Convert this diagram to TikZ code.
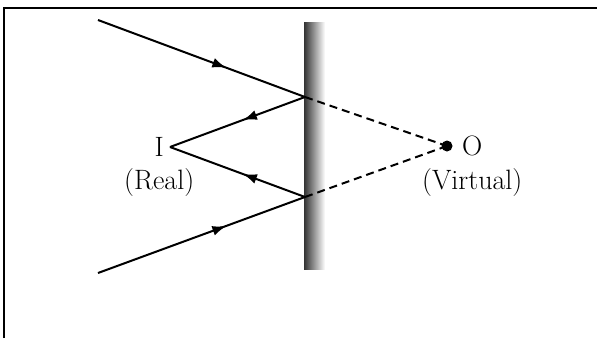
\documentclass[tikz,border=0pt]{standalone}
\usetikzlibrary{positioning,decorations.markings,arrows.meta}
\tikzset{
  ray/.style={line width=2pt, line join=round},
  virtray/.style={line width=2pt, dash pattern=on 8pt off 5pt},
  midarrow/.style={postaction={decorate}, decoration={markings,
    mark=at position #1 with {\arrow{Latex[length=14pt,width=10pt]}}}},
  lbl/.style={font=\fontsize{28}{32}\selectfont, inner sep=0pt}
}
\begin{document}
\begin{tikzpicture}[x=1pt, y=-1pt]
  \useasboundingbox (0,0) rectangle (597,338);
  % the frame, only its top and left sides
  \draw[line width=2pt] (4,338) -- (4,8) -- (597,8);
  % the mirror
  \shade[left color=black!80, right color=white] (304,22) rectangle (325,269);
  % the points
  \coordinate (A) at (98,20);
  \coordinate (B) at (98,273);
  \coordinate (P1) at (305,97);
  \coordinate (P2) at (305,197);
  \coordinate (Ipt) at (170,147);
  \coordinate (Opt) at (447,146);
  % incoming and reflected rays
  \draw[ray, midarrow=0.62] (A) -- (P1);
  \draw[ray, midarrow=0.62] (B) -- (P2);
  \draw[ray, midarrow=0.46] (P1) -- (Ipt);
  \draw[ray, midarrow=0.46] (P2) -- (Ipt);
  % the rays as seen from behind the mirror
  \draw[virtray] (P1) -- (Opt);
  \draw[virtray] (P2) -- (Opt);
  \fill (Opt) circle (5.5);
  % labels
  \node[lbl, left=6pt of Ipt] (Ilbl) {I};
  \node[lbl, below=12pt of Ilbl] (Real) {(Real)};
  \node[lbl, right=15pt of Opt] (Olbl) {O};
  \node[lbl, below=12pt of Olbl] (Virtual) {(Virtual)};
\end{tikzpicture}
\end{document}
